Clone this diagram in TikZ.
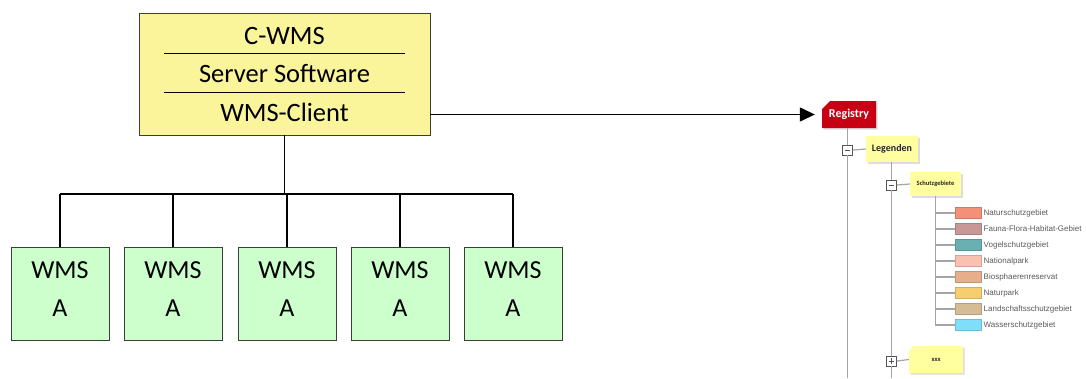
\documentclass[tikz,border=0pt]{standalone}
\usepackage{fontspec}
\setmainfont{Carlito}
\newfontfamily\legendfont{Liberation Sans}
\usetikzlibrary{arrows.meta,shapes.misc,shadows}

\definecolor{boxyellow}{RGB}{250,245,155}
\definecolor{boxgreen}{RGB}{204,255,204}
\definecolor{boxline}{RGB}{60,60,60}
\definecolor{regred}{RGB}{200,0,20}
\definecolor{tagyellow}{RGB}{255,255,160}
\definecolor{treegray}{RGB}{165,165,165}
\definecolor{togglegray}{RGB}{85,85,85}
\definecolor{labelgray}{RGB}{90,90,90}
\definecolor{cNatur}{RGB}{242,145,120}
\definecolor{cFFH}{RGB}{200,152,150}
\definecolor{cVogel}{RGB}{106,176,178}
\definecolor{cNational}{RGB}{250,192,176}
\definecolor{cBio}{RGB}{232,174,140}
\definecolor{cPark}{RGB}{246,206,112}
\definecolor{cLandschaft}{RGB}{212,188,148}
\definecolor{cWasser}{RGB}{128,222,250}

\begin{document}
\begin{tikzpicture}[x=1pt,y=-1pt,
  mainbox/.style={draw=boxline,line width=0.9pt,fill=boxyellow,minimum width=291pt,minimum height=122pt,inner sep=0pt},
  maintext/.style={font=\fontsize{26.5}{30}\selectfont,inner sep=0pt},
  sepline/.style={draw=black,line width=0.8pt},
  wmsbox/.style={draw=boxline,line width=0.9pt,fill=boxgreen,minimum width=98pt,minimum height=93pt,inner sep=0pt},
  wmstext/.style={font=\fontsize{26}{30}\selectfont,inner sep=0pt},
  conn/.style={draw=black,line width=1.4pt},
  regbox/.style={chamfered rectangle,chamfered rectangle corners=north west,
    chamfered rectangle xsep=4pt,chamfered rectangle ysep=4pt,
    fill=regred,text=white,font=\fontsize{12}{14}\bfseries\selectfont,
    minimum width=54pt,minimum height=27pt,inner sep=0pt,
    drop shadow={shadow xshift=1.5pt,shadow yshift=-1.5pt,fill=gray!45,opacity=0.6}},
  tagbox/.style={fill=tagyellow,text=black!85,inner sep=0pt,
    drop shadow={shadow xshift=1.5pt,shadow yshift=-1.5pt,fill=gray!45,opacity=0.6}},
  togglebox/.style={draw=togglegray,line width=0.9pt,fill=white,minimum size=10pt,inner sep=0pt},
  treeline/.style={draw=treegray,line width=1.2pt},
  swatch/.style={minimum width=26pt,minimum height=11pt,inner sep=0pt,line width=0.5pt},
  legendlabel/.style={anchor=west,inner sep=0pt,text=labelgray,font=\legendfont\fontsize{8}{9}\selectfont}
]
\useasboundingbox (0,0) rectangle (1086,378);

% --- central C-WMS box -------------------------------------------------
\node[mainbox] (main) at (284.5,74) {};
\node[maintext] (cwms) at (284.5,36) {C-WMS};
\node[maintext] (server) at (284.5,74) {Server Software};
\node[maintext] (client) at (284.5,112) {WMS-Client};
\draw[sepline] (164,53) -- (405,53);
\draw[sepline] (164,92) -- (405,92);

% --- WMS A boxes ----------------------------------------------------------
\foreach \i/\x in {1/60,2/173,3/287,4/400,5/513}{
  \node[wmsbox] (w\i) at (\x,293.5) {};
  \node[wmstext] (w\i top) at ([yshift=23.5pt]w\i.center) {WMS};
  \node[wmstext] (w\i bot) at ([yshift=-15pt]w\i.center) {A};
}

% --- bus from the central box down to the WMS boxes -----------------------
\coordinate (bus) at (285,194);
\draw[conn] (main.south) -- (main.south |- bus);
\draw[conn] (w1.north |- bus) -- (w5.north |- bus);
\foreach \i in {1,...,5}{
  \draw[conn] (w\i.north |- bus) -- (w\i.north);
}

% --- registry tree ------------------------------------------------------
\node[regbox] (reg) at (849,114.5) {Registry};
\draw[conn,-{Triangle[length=15pt,width=14pt]},shorten >=7pt] (main.east |- reg.west) -- (reg.west);

\node[togglebox] (t1) at (847.5,150) {};
\node[tagbox,minimum width=52pt,minimum height=26pt,font=\fontsize{10}{12}\bfseries\selectfont] (leg) at (892,149) {Legenden};
\node[togglebox] (t2) at (891.5,185) {};
\node[tagbox,minimum width=51pt,minimum height=24pt,font=\fontsize{6.5}{8}\bfseries\selectfont] (sg) at (935.5,184) {Schutzgebiete};
\node[togglebox] (t3) at (891.5,361) {};
\node[tagbox,chamfered rectangle,chamfered rectangle corners=north west,
  chamfered rectangle xsep=3pt,chamfered rectangle ysep=3pt,
  minimum width=54pt,minimum height=27pt,font=\fontsize{6.5}{8}\bfseries\selectfont] (xxx) at (936,359.5) {xxx};

\coordinate (bot1) at (847.5,378);
\coordinate (bot2) at (891.5,378);

% tree branches
\draw[treeline] (reg.south -| t1) -- (t1.north);
\draw[treeline] (t1.south) -- (bot1);
\draw[treeline] (t1.east) -- (leg.west);
\draw[treeline] (leg.south -| t2) -- (t2.north);
\draw[treeline] (t2.east) -- (sg.west);
\draw[treeline] (t2.south) -- (t3.north);
\draw[treeline] (t3.south) -- (bot2);
\draw[treeline] (t3.east) -- (xxx.west);

% toggle glyphs
\draw[togglegray,line width=0.9pt] ([xshift=2.5pt]t1.west) -- ([xshift=-2.5pt]t1.east);
\draw[togglegray,line width=0.9pt] ([xshift=2.5pt]t2.west) -- ([xshift=-2.5pt]t2.east);
\draw[togglegray,line width=0.9pt] ([xshift=2.5pt]t3.west) -- ([xshift=-2.5pt]t3.east);
\draw[togglegray,line width=0.9pt] ([yshift=-2.5pt]t3.north) -- ([yshift=2.5pt]t3.south);

% legend entries
\foreach \i/\y/\c/\t in {1/213/cNatur/Naturschutzgebiet,
                          2/229/cFFH/Fauna-Flora-Habitat-Gebiet,
                          3/245/cVogel/Vogelschutzgebiet,
                          4/261/cNational/Nationalpark,
                          5/277/cBio/Biosphaerenreservat,
                          6/293/cPark/Naturpark,
                          7/309/cLandschaft/Landschaftsschutzgebiet,
                          8/325/cWasser/Wasserschutzgebiet}{
  \node[swatch,fill=\c,draw=\c!85!black] (s\i) at (968,\y) {};
  \node[legendlabel] (l\i) at (983.5,\y) {\t};
}
\foreach \i in {1,...,7}{
  \draw[treeline] (sg.south |- s\i.west) -- (s\i.west);
}
\draw[treeline] (sg.south) -- (sg.south |- s8.west) -- (s8.west);
\end{tikzpicture}
\end{document}
